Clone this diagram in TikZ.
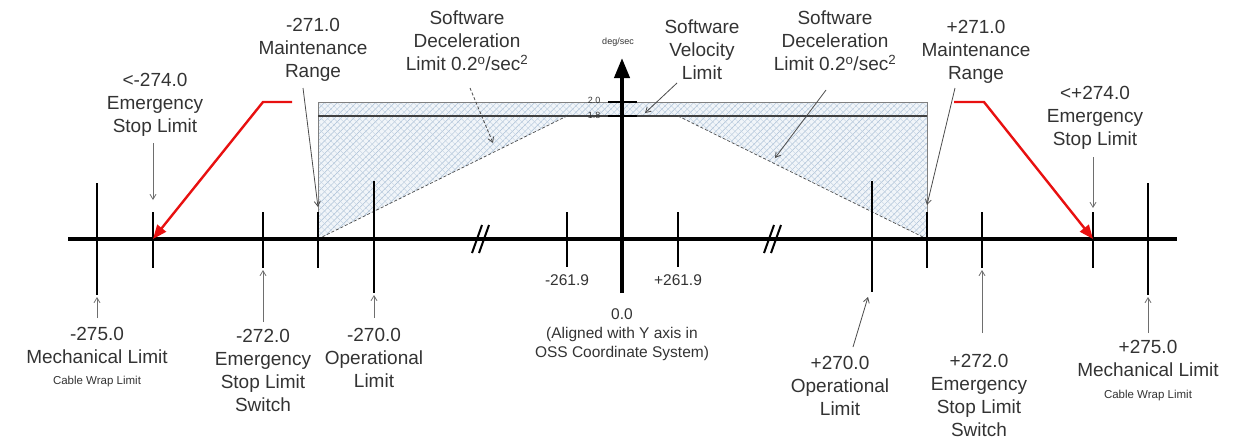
\documentclass[tikz,border=0pt]{standalone}
\usepackage{fontspec}
\setmainfont{Liberation Sans}
\usetikzlibrary{arrows.meta,patterns.meta}
\definecolor{txt}{HTML}{333333}
\definecolor{ptrgray}{HTML}{6E6E6E}
\definecolor{hatch}{HTML}{A9BFD6}
\definecolor{hatchbg}{HTML}{F1F5F9}
\definecolor{redarrow}{HTML}{E81010}
\begin{document}
\begin{tikzpicture}[x=1pt,y=-1pt,
  lbl/.style={font=\fontsize{19}{23}\selectfont, text=txt, align=center, inner sep=0pt},
  sm/.style={font=\fontsize{15.5}{19}\selectfont, text=txt, align=center, inner sep=0pt},
  cw/.style={font=\fontsize{11.5}{13}\selectfont, text=txt, inner sep=0pt},
  tiny/.style={font=\fontsize{9}{10}\selectfont, text=txt, inner sep=0pt},
  tickline/.style={line width=2.2pt, black},
  ptr/.style={ptrgray, line width=0.8pt, -{Straight Barb[length=5pt,width=6pt]}},
  redptr/.style={redarrow, line width=2.4pt, -{Triangle[length=14pt,width=11pt]}},
  brk/.style={line width=2pt, black}]
\useasboundingbox (0,0) rectangle (1241,440);

% hatched velocity region
\path[fill=hatchbg] (318,102) -- (927,102) -- (927,239) -- (678,116) -- (567,116) -- (318,239) -- cycle;
\path[pattern={Lines[angle=45,distance=4.5pt,line width=0.5pt]}, pattern color=hatch]
  (318,102) -- (927,102) -- (927,239) -- (678,116) -- (567,116) -- (318,239) -- cycle;
\path[pattern={Lines[angle=-45,distance=4.5pt,line width=0.4pt]}, pattern color=hatch!70]
  (318,102) -- (927,102) -- (927,239) -- (678,116) -- (567,116) -- (318,239) -- cycle;
\draw[gray, line width=0.8pt] (318,239) -- (318,102) -- (927,102) -- (927,239);
\draw[black!75, line width=1.6pt] (318,116) -- (927,116);
\draw[black!70, line width=0.7pt, densely dashed] (318,239) -- (567,116);
\draw[black!70, line width=0.7pt, densely dashed] (678,116) -- (927,239);

% main axis
\draw[line width=4pt, black] (68,239) -- (1177,239);

% ticks
\foreach \x/\t/\b in {97/183/295,153/212/268,263/212/268,318/212/268,374/181/293,
                      567/212/267,678/212/267,872/181/292,927/212/268,982/212/268,
                      1093/212/268,1148/183/295}
  \draw[tickline] (\x,\t) -- (\x,\b);

% break marks
\draw[brk] (472,253) -- (482,225);
\draw[brk] (479,253) -- (489,225);
\draw[brk] (764,253) -- (774,225);
\draw[brk] (771,253) -- (781,225);

% vertical velocity axis
\draw[line width=4pt, black, -{Triangle[length=20pt,width=15pt]}] (622,293) -- (622,58);
\draw[line width=2pt, black] (608,102) -- (637,102);
\draw[line width=2pt, black] (608,116) -- (637,116);
\node[tiny] (v20) at (594,100) {2.0};
\node[tiny] (v18) at (594,115) {1.8};
\node[tiny] (deg) at (618,42) {deg/sec};

% upper labels
\node[lbl] (eL) at (155,105) {<-274.0\\Emergency\\Stop Limit};
\node[lbl] (mL) at (313,50) {-271.0\\Maintenance\\Range};
\node[lbl] (sdL) at (467,41) {Software\\Deceleration\\Limit 0.2\textsuperscript{o}/sec\textsuperscript{2}};
\node[lbl] (sv) at (702,50) {Software\\Velocity\\Limit};
\node[lbl] (sdR) at (835,41) {Software\\Deceleration\\Limit 0.2\textsuperscript{o}/sec\textsuperscript{2}};
\node[lbl] (mR) at (976,52) {+271.0\\Maintenance\\Range};
\node[lbl] (eR) at (1095,118) {<+274.0\\Emergency\\Stop Limit};

% lower labels
\node[lbl] (mechL) at (97,345) {-275.0\\Mechanical Limit};
\node[cw] (cwL) at (97,382) {Cable Wrap Limit};
\node[lbl] (esL) at (263,370) {-272.0\\Emergency\\Stop Limit\\Switch};
\node[lbl] (opL) at (374,358) {-270.0\\Operational\\Limit};
\node[sm] (n261L) at (567,280) {-261.9};
\node[sm] (n261R) at (678,280) {+261.9};
\node[sm] (zero) at (622,335) {0.0\\(Aligned with Y axis in\\OSS Coordinate System)};
\node[lbl] (opR) at (840,386) {+270.0\\Operational\\Limit};
\node[lbl] (esR) at (979,395) {+272.0\\Emergency\\Stop Limit\\Switch};
\node[lbl] (mechR) at (1148,358) {+275.0\\Mechanical Limit};
\node[cw] (cwR) at (1148,396) {Cable Wrap Limit};

% pointer coordinates
\coordinate (eLs) at (153,143);  \coordinate (eLe) at (153,200);
\coordinate (mLs) at (303,88);   \coordinate (mLe) at (318,207);
\coordinate (sdLs) at (470,88);  \coordinate (sdLe) at (493,143);
\coordinate (svs) at (677,83);   \coordinate (sve) at (645,113);
\coordinate (sdRs) at (826,90);  \coordinate (sdRe) at (775,158);
\coordinate (mRs) at (955,88);   \coordinate (mRe) at (927,205);
\coordinate (eRs) at (1093,157); \coordinate (eRe) at (1093,208);
\coordinate (mechLs) at (97,318);  \coordinate (mechLe) at (97,297);
\coordinate (esLs) at (263,322);   \coordinate (esLe) at (263,270);
\coordinate (opLs) at (374,318);   \coordinate (opLe) at (374,295);
\coordinate (opRs) at (853,347);   \coordinate (opRe) at (868,297);
\coordinate (esRs) at (982,333);   \coordinate (esRe) at (982,270);
\coordinate (mechRs) at (1148,333); \coordinate (mechRe) at (1148,297);

\draw[ptr] (eLs) -- (eLe);
\draw[ptr, black!70] (mLs) -- (mLe);
\draw[ptr, black!70, densely dashed] (sdLs) -- (sdLe);
\draw[ptr, black!70] (svs) -- (sve);
\draw[ptr, black!70] (sdRs) -- (sdRe);
\draw[ptr, black!70] (mRs) -- (mRe);
\draw[ptr] (eRs) -- (eRe);
\draw[ptr] (mechLs) -- (mechLe);
\draw[ptr] (esLs) -- (esLe);
\draw[ptr] (opLs) -- (opLe);
\draw[ptr, black!70] (opRs) -- (opRe);
\draw[ptr] (esRs) -- (esRe);
\draw[ptr] (mechRs) -- (mechRe);

% red arrows
\coordinate (rLa) at (292,102); \coordinate (rLb) at (263,102); \coordinate (rLc) at (153,239);
\coordinate (rRa) at (954,102); \coordinate (rRb) at (984,102); \coordinate (rRc) at (1093,239);
\draw[redptr] (rLa) -- (rLb) -- (rLc);
\draw[redptr] (rRa) -- (rRb) -- (rRc);
\end{tikzpicture}
\end{document}
